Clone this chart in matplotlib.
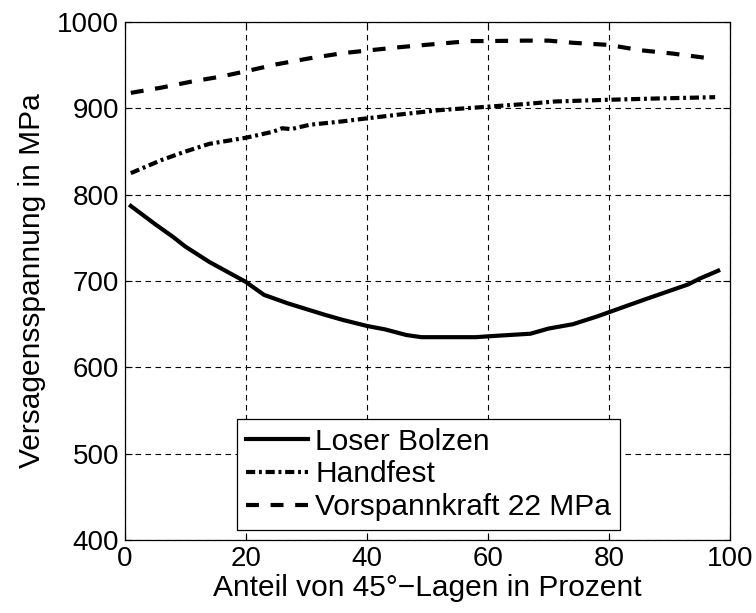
import matplotlib
matplotlib.use('Agg')
import matplotlib.pyplot as plt

plt.rcParams['font.family'] = ['Liberation Sans', 'DejaVu Sans']

# Loser Bolzen (solid)
x_lose = [1, 5, 8, 10, 14, 20, 23, 27, 33, 36, 40, 43, 46.5, 49, 58, 60, 67, 70, 74, 78, 80, 86, 93, 95, 98]
y_lose = [787, 766, 751, 740, 722, 699, 684, 674, 661, 655, 648, 644, 637.5, 635, 635, 636, 639, 645, 650, 659, 664, 679, 696, 703, 712]

# Handfest (dash-dot)
x_hand = [1, 6, 10, 14, 20, 24.5, 26, 27.5, 30.5, 36, 40, 45.5, 52, 60, 66, 71, 80, 88, 97.5]
y_hand = [825, 840, 850, 859, 866, 873, 877, 876, 881, 885, 888.5, 893, 898, 902, 905, 908, 910, 911.5, 913]

# Vorspannkraft 22 MPa (dashed)
x_vor = [1, 6, 11, 16, 20, 25, 30.5, 36, 40, 45.5, 52, 57, 60, 66, 70, 74, 80, 85, 90.5, 96]
y_vor = [918, 924, 931, 937, 943, 951, 958, 964, 967, 971, 975, 978, 978, 978.5, 978.5, 976, 973.5, 967.5, 963.5, 958.5]

labels = ['Loser Bolzen', 'Handfest', 'Vorspannkraft 22 MPa']

fig = plt.figure(figsize=(7.56, 6.13), dpi=100)
ax = fig.add_axes([0.165, 0.119, 0.801, 0.845])

lw = 3.0
ax.plot(x_lose, y_lose, color='black', lw=lw, linestyle='-', label=labels[0])
ax.plot(x_hand, y_hand, color='black', lw=lw, linestyle=(0, (2.2, 0.9, 0.7, 0.9)), label=labels[1])
ax.plot(x_vor, y_vor, color='black', lw=lw, linestyle=(0, (3.1, 2.8)), label=labels[2])

ax.set_xlim(0, 100)
ax.set_ylim(400, 1000)
ax.set_xticks(range(0, 101, 20))
ax.set_yticks(range(400, 1001, 100))
ax.grid(True, color='black', linestyle=(0, (5, 4)), linewidth=0.8)
ax.tick_params(direction='in', top=True, right=True, length=5, width=0.8,
               labelsize=20, pad=4)
for s in ax.spines.values():
    s.set_linewidth(0.9)

ax.set_xlabel('Anteil von 45°\u2212Lagen in Prozent', fontsize=21.5, labelpad=2)
ax.set_ylabel('Versagensspannung in MPa', fontsize=21.5, labelpad=8)

leg = ax.legend(loc='lower left', bbox_to_anchor=(0.185, 0.019), fontsize=21.5,
                fancybox=False, framealpha=1, edgecolor='black',
                handlelength=2.1, handletextpad=0.23, borderpad=0.3,
                labelspacing=0.16, borderaxespad=0)
leg.get_frame().set_linewidth(0.9)

fig.savefig('out.png', dpi=100)
